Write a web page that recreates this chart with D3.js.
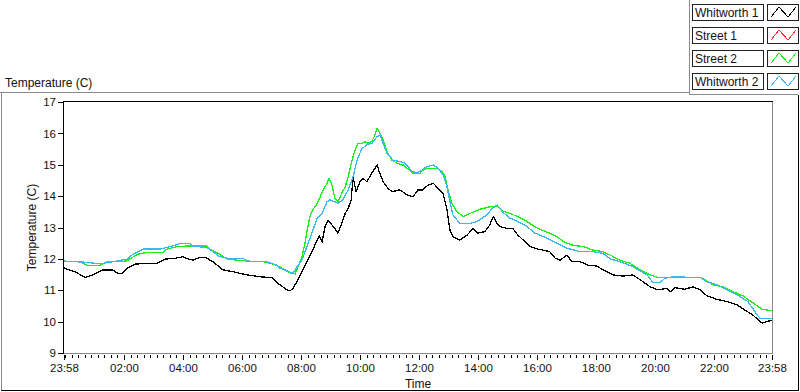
<!DOCTYPE html>
<html>
<head>
<meta charset="utf-8">
<script src="https://cdn.jsdelivr.net/npm/d3@7"></script>
<style>
  body { margin: 0; background: #fff; }
  svg { display: block; font-family: "Liberation Sans", Arial, sans-serif; }
</style>
</head>
<body>
<div id="chart"></div>
<script>
(function () {

    // minutes elapsed since 23:58, temperatures in C
    var w1Time = [0, 22, 43, 59, 79, 98, 110, 118, 130, 144, 169, 189, 195, 205, 226, 242, 252, 262, 277, 287,
        303, 323, 344, 372, 399, 423, 435, 454, 460, 466, 476, 486, 496, 504, 515, 519, 525, 531, 537, 545,
        551, 557, 565, 572, 578, 584, 588, 594, 602, 608, 616, 622, 628, 637, 641, 649, 659, 667, 683, 698,
        710, 720, 730, 740, 751, 761, 771, 779, 785, 791, 805, 820, 832, 842, 856, 866, 873, 881, 887, 901,
        913, 923, 934, 948, 964, 974, 988, 999, 1009, 1023, 1033, 1050, 1066, 1084, 1096, 1111, 1117, 1137, 1157, 1178,
        1192, 1208, 1226, 1233, 1243, 1263, 1279, 1294, 1308, 1328, 1348, 1369, 1385, 1401, 1420, 1430, 1440];
    var w1Temp = [11.71, 11.59, 11.41, 11.49, 11.65, 11.65, 11.54, 11.54, 11.72, 11.83, 11.86, 11.86, 11.91, 11.99, 12.02, 12.07, 12.00, 11.96, 12.05, 12.05,
        11.91, 11.65, 11.59, 11.49, 11.43, 11.40, 11.22, 11.01, 10.98, 11.07, 11.33, 11.65, 11.96, 12.22, 12.60, 12.73, 12.55, 13.03, 13.24, 13.08,
        12.97, 12.82, 13.13, 13.45, 13.61, 13.88, 14.62, 14.14, 14.46, 14.57, 14.46, 14.62, 14.78, 14.99, 14.78, 14.46, 14.25, 14.14, 14.20, 14.04,
        13.98, 14.20, 14.20, 14.35, 14.41, 14.25, 14.09, 13.56, 12.92, 12.71, 12.60, 12.76, 12.97, 12.82, 12.87, 13.08, 13.35, 13.13, 13.03, 12.97,
        12.97, 12.76, 12.60, 12.39, 12.31, 12.28, 12.23, 12.02, 11.96, 12.12, 11.91, 11.91, 11.80, 11.77, 11.65, 11.54, 11.49, 11.45, 11.49, 11.27,
        11.11, 11.01, 11.06, 10.95, 11.08, 11.03, 11.11, 11.01, 10.82, 10.71, 10.64, 10.53, 10.37, 10.21, 9.95, 10.00, 10.05];

    // Street 1 shows no visible trace in the picture
    var s1Time = [];
    var s1Temp = [];

    var s2Time = [0, 33, 47, 73, 87, 128, 138, 151, 171, 201, 209, 230, 250, 291, 297, 313, 332, 372, 405, 425,
        439, 460, 470, 476, 484, 490, 496, 500, 506, 515, 521, 527, 535, 539, 545, 551, 557, 565, 572, 578,
        586, 592, 598, 606, 612, 618, 626, 631, 637, 643, 649, 657, 667, 677, 690, 698, 710, 724, 730, 740,
        759, 769, 775, 781, 789, 799, 812, 826, 846, 866, 883, 891, 907, 923, 942, 952, 968, 988, 1003, 1015,
        1033, 1056, 1076, 1096, 1111, 1131, 1151, 1172, 1192, 1208, 1294, 1304, 1320, 1340, 1361, 1381, 1401, 1420, 1440];
    var s2Temp = [11.93, 11.91, 11.80, 11.80, 11.91, 11.93, 12.04, 12.15, 12.21, 12.21, 12.31, 12.39, 12.41, 12.41, 12.31, 12.18, 11.99, 11.93, 11.91, 11.83,
        11.75, 11.55, 11.52, 11.75, 12.07, 12.50, 13.03, 13.35, 13.56, 13.77, 13.98, 14.20, 14.41, 14.57, 14.35, 13.93, 13.82, 14.09, 14.30, 14.62,
        15.15, 15.47, 15.68, 15.68, 15.74, 15.68, 15.74, 15.90, 16.16, 16.00, 15.79, 15.42, 15.15, 15.05, 14.99, 14.89, 14.73, 14.73, 14.83, 14.89,
        14.89, 14.78, 14.62, 14.20, 13.77, 13.51, 13.35, 13.45, 13.58, 13.66, 13.66, 13.53, 13.45, 13.35, 13.19, 13.08, 12.94, 12.82, 12.71, 12.55,
        12.44, 12.39, 12.28, 12.23, 12.12, 11.96, 11.86, 11.65, 11.49, 11.41, 11.41, 11.33, 11.17, 11.11, 10.95, 10.82, 10.60, 10.39, 10.35];

    var w2Time = [0, 47, 73, 128, 138, 161, 195, 216, 230, 240, 256, 262, 291, 303, 317, 332, 364, 372, 413, 433,
        439, 466, 474, 484, 494, 504, 515, 525, 535, 541, 551, 557, 567, 578, 588, 596, 606, 616, 626, 637,
        643, 649, 657, 669, 683, 694, 708, 718, 728, 738, 751, 761, 771, 779, 785, 791, 805, 826, 840, 860,
        871, 881, 891, 907, 923, 942, 958, 982, 1003, 1023, 1050, 1076, 1096, 1111, 1137, 1157, 1186, 1198, 1212, 1222,
        1247, 1267, 1294, 1308, 1328, 1350, 1375, 1391, 1410, 1416, 1440];
    var w2Temp = [11.93, 11.89, 11.84, 11.99, 12.12, 12.31, 12.31, 12.39, 12.46, 12.50, 12.50, 12.41, 12.36, 12.23, 12.07, 12.02, 12.02, 11.93, 11.91, 11.80,
        11.71, 11.54, 11.75, 11.96, 12.39, 12.82, 13.30, 13.45, 13.82, 13.88, 13.82, 13.77, 13.88, 14.20, 14.62, 15.15, 15.52, 15.63, 15.68, 15.90,
        15.95, 15.68, 15.37, 15.15, 15.10, 15.05, 14.78, 14.75, 14.83, 14.94, 14.99, 14.89, 14.67, 14.30, 13.82, 13.40, 13.13, 13.13, 13.19, 13.40,
        13.61, 13.72, 13.51, 13.30, 13.19, 13.03, 12.82, 12.66, 12.50, 12.34, 12.23, 12.23, 12.18, 12.00, 11.88, 11.75, 11.49, 11.24, 11.24, 11.38,
        11.45, 11.41, 11.41, 11.27, 11.17, 11.01, 10.80, 10.64, 10.21, 10.10, 10.10];

    var seriesNames = ['Whitworth 1', 'Street 1', 'Street 2', 'Whitworth 2'];
    var seriesColors = ['#000000', '#ff3030', '#18f018', '#3cb8f0'];
    var yTicks = [9, 10, 11, 12, 13, 14, 15, 16, 17];
    var majorHours = [2, 4, 6, 8, 10, 12, 14, 16, 18, 20, 22];

    var w = 800, h = 392;
    var left = 64, right = 772, top = 102, bottom = 353;

    var start = new Date(2000, 0, 1, 23, 58);
    function at(min) { return new Date(start.getTime() + min * 60000); }
    var end = at(1440);

    var x = d3.scaleTime().domain([start, end]).range([left, right]);
    var y = d3.scaleLinear().domain([9, 17]).range([bottom, top]);

    var svg = d3.select('#chart')
        .append('svg')
            .attr('width', w)
            .attr('height', h);

    svg.append('rect').attr('width', w).attr('height', h).attr('fill', '#fff');

    // outer frame lines
    function seg(x1, y1, x2, y2, c) {
        svg.append('line')
            .attr('x1', x1).attr('y1', y1).attr('x2', x2).attr('y2', y2)
            .attr('stroke', c).attr('stroke-width', 1).attr('shape-rendering', 'crispEdges');
    }
    seg(0, 92.5, 689, 92.5, '#8a8a8a');
    seg(1.5, 92, 1.5, 391, '#8a8a8a');
    seg(689.5, 0, 689.5, 95, '#8a8a8a');
    seg(689, 94.5, 798, 94.5, '#8a8a8a');
    seg(1, 390.5, 799, 390.5, '#000');
    seg(798.5, 95, 798.5, 391, '#000');

    svg.append('text')
        .attr('x', 5).attr('y', 87)
        .attr('font-size', '12px').attr('fill', '#111')
        .text('Temperature (C)');

    // axes
    var majors = [start].concat(majorHours.map(function (hr) {
        return at((hr * 60 + 2) % 1440);
    })).concat([end]);
    var minors = [];
    for (var m = 2; m <= 1440; m += 120 / 9) { minors.push(at(m)); }

    svg.append('g')
        .attr('transform', 'translate(0,' + (bottom + 1.5) + ')')
        .call(d3.axisBottom(x).tickValues(minors).tickSize(3).tickFormat(''))
        .call(function (g) { g.select('.domain').remove(); });

    svg.append('g')
        .attr('class', 'xaxis')
        .attr('transform', 'translate(0,' + (bottom + 1.5) + ')')
        .call(d3.axisBottom(x).tickValues(majors).tickSize(5).tickPadding(4)
            .tickFormat(d3.timeFormat('%H:%M')))
        .call(function (g) { g.select('.domain').remove(); });

    svg.append('g')
        .attr('class', 'yaxis')
        .attr('transform', 'translate(' + (left - 1) + ',0)')
        .call(d3.axisLeft(y).tickValues(yTicks).tickSize(5).tickPadding(2).tickFormat(d3.format('d')))
        .call(function (g) { g.select('.domain').remove(); });

    svg.selectAll('.tick line').attr('stroke', '#000').attr('shape-rendering', 'crispEdges');
    svg.selectAll('.tick text')
        .attr('fill', '#111')
        .attr('font-size', '11.5px')
        .attr('font-family', '"Liberation Sans", Arial, sans-serif');

    svg.append('text')
        .attr('transform', 'translate(36,' + ((top + bottom) / 2) + ') rotate(-90)')
        .attr('text-anchor', 'middle')
        .attr('font-size', '12px').attr('fill', '#111')
        .text('Temperature (C)');

    svg.append('text')
        .attr('x', (left + right) / 2).attr('y', 388)
        .attr('text-anchor', 'middle')
        .attr('font-size', '12px').attr('fill', '#111')
        .text('Time');

    // plot lines, drawn aliased like the instrument display
    var series = [
        { time: w1Time, temp: w1Temp },
        { time: s1Time, temp: s1Temp },
        { time: s2Time, temp: s2Temp },
        { time: w2Time, temp: w2Temp }
    ];
    var line = d3.line()
        .x(function (d) { return x(at(d[0])); })
        .y(function (d) { return y(d[1]); });

    svg.append('g').selectAll('path')
        .data(series)
        .enter()
        .append('path')
            .attr('d', function (s) { return line(d3.zip(s.time, s.temp)); })
            .attr('fill', 'none')
            .attr('stroke', function (s, i) { return seriesColors[i]; })
            .attr('stroke-width', 1.3)
            .attr('shape-rendering', 'crispEdges');

    // plot border: dark top/left, grey bottom/right
    seg(left, top - 0.5, right + 1, top - 0.5, '#000');
    seg(left - 0.5, top - 1, left - 0.5, bottom + 1, '#000');
    seg(right + 0.5, top, right + 0.5, bottom + 1, '#8a8a8a');
    seg(left, bottom + 0.5, right + 1, bottom + 0.5, '#8a8a8a');

    // legend
    var lg = svg.append('g').selectAll('g')
        .data(seriesNames)
        .enter()
        .append('g')
            .attr('transform', function (d, i) { return 'translate(0,' + (4 + i * 23) + ')'; });

    lg.append('rect')
        .attr('x', 692.5).attr('y', 0.5).attr('width', 71).attr('height', 16)
        .attr('fill', '#fff').attr('stroke', '#222');
    lg.append('text')
        .attr('x', 695).attr('y', 13)
        .attr('font-size', '12px').attr('fill', '#111')
        .text(function (d) { return d; });
    lg.append('rect')
        .attr('x', 767.5).attr('y', 0.5).attr('width', 31).attr('height', 16)
        .attr('fill', '#fff').attr('stroke', '#222');
    lg.append('path')
        .attr('d', 'M771,13L779,3L788,13L796,3')
        .attr('fill', 'none')
        .attr('stroke', function (d, i) { return seriesColors[i]; })
        .attr('stroke-width', 1)
        .attr('shape-rendering', 'crispEdges');

})();
</script>
</body>
</html>
